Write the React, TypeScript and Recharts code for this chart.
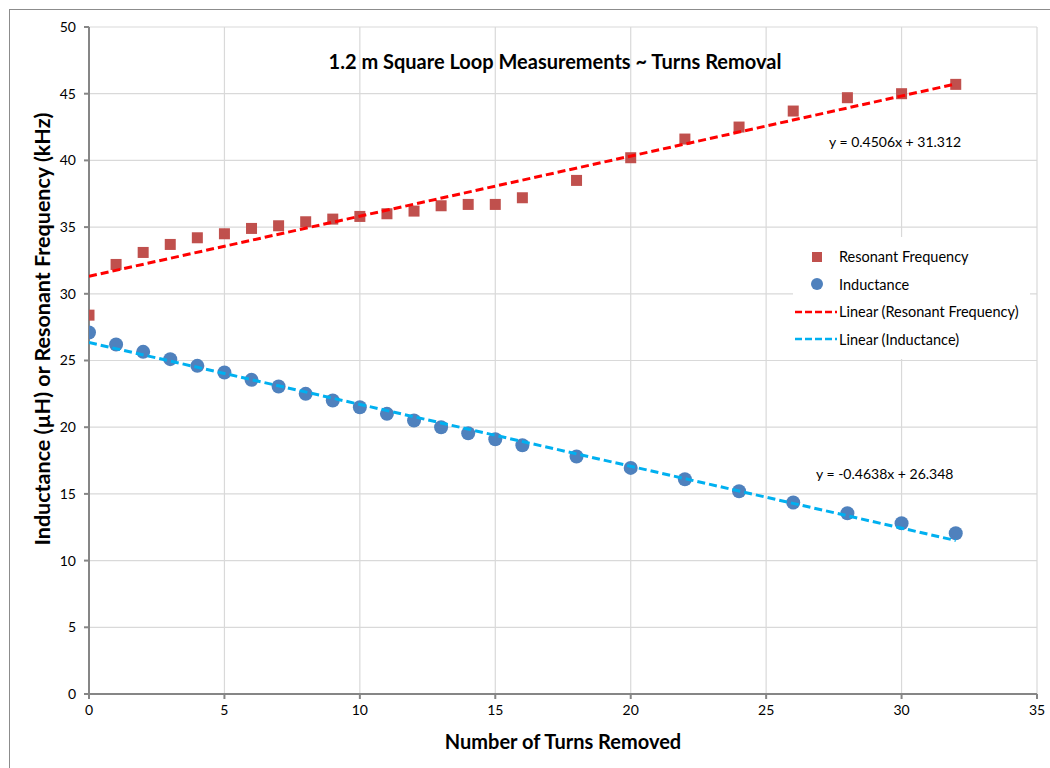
import React from "react";
import { ComposedChart, Scatter, XAxis, YAxis, CartesianGrid } from "recharts";

const turnsRemoved = [0, 1, 2, 3, 4, 5, 6, 7, 8, 9, 10, 11, 12, 13, 14, 15, 16, 18, 20, 22, 24, 26, 28, 30, 32];
const resonantFreq = [
  28.4, 32.2, 33.1, 33.7, 34.2, 34.5, 34.9, 35.1, 35.4, 35.6, 35.8, 36.0, 36.2, 36.6, 36.7, 36.7, 37.2,
  38.5, 40.2, 41.6, 42.5, 43.7, 44.7, 45.0, 45.7,
];
const inductance = [
  27.1, 26.2, 25.65, 25.1, 24.6, 24.1, 23.55, 23.05, 22.5, 22.0, 21.5, 21.0, 20.5, 20.0, 19.55, 19.1,
  18.65, 17.8, 16.95, 16.1, 15.2, 14.35, 13.55, 12.8, 12.05,
];

// Linear trendline endpoints (Excel trendline, x = 0 and x = 32)
const trendX = [0, 32];
const trendRes = [31.312, 45.731];
const trendInd = [26.348, 11.506];

const xTicks = [0, 5, 10, 15, 20, 25, 30, 35];
const yTicks = [0, 5, 10, 15, 20, 25, 30, 35, 40, 45, 50];

const RED_MARK = "#c0504d";
const BLUE_MARK = "#4f81bd";
const RED_LINE = "#ff0000";
const BLUE_LINE = "#00b0f0";
const FONT = "Lato, 'Open Sans', sans-serif";

const resData = turnsRemoved.map((x, i) => ({ x, y: resonantFreq[i] }));
const indData = turnsRemoved.map((x, i) => ({ x, y: inductance[i] }));
const resTrend = trendX.map((x, i) => ({ x, y: trendRes[i] }));
const indTrend = trendX.map((x, i) => ({ x, y: trendInd[i] }));

const SquareDot = (p: any) => (
  <rect x={p.cx - 5.5} y={p.cy - 5.5} width={11} height={11} fill={RED_MARK} />
);
const RoundDot = (p: any) => <circle cx={p.cx} cy={p.cy} r={7} fill={BLUE_MARK} />;
const NoDot = () => <g />;

const legendRows = [
  { kind: "square", label: "Resonant Frequency" },
  { kind: "circle", label: "Inductance" },
  { kind: "redline", label: "Linear (Resonant Frequency)" },
  { kind: "blueline", label: "Linear (Inductance)" },
];

function LegendBox() {
  return (
    <div style={{ background: "#fff", padding: "6px 0", fontFamily: FONT, fontSize: 14.5, color: "#000" }}>
      {legendRows.map((r) => (
        <div key={r.label} style={{ display: "flex", alignItems: "center", height: 27.5 }}>
          <svg width={46} height={14} style={{ flex: "none" }}>
            {r.kind === "square" && <rect x={19} y={2} width={10} height={10} fill={RED_MARK} />}
            {r.kind === "circle" && <circle cx={24} cy={7} r={6} fill={BLUE_MARK} />}
            {r.kind === "redline" && (
              <line x1={2} x2={44} y1={7} y2={7} stroke={RED_LINE} strokeWidth={2.5} strokeDasharray="7 3" />
            )}
            {r.kind === "blueline" && (
              <line x1={2} x2={44} y1={7} y2={7} stroke={BLUE_LINE} strokeWidth={2.5} strokeDasharray="7 3" />
            )}
          </svg>
          <span style={{ whiteSpace: "nowrap" }}>{r.label}</span>
        </div>
      ))}
    </div>
  );
}

export default function App() {
  return (
    <div
      style={{
        position: "fixed",
        left: 0,
        top: 0,
        width: 1050,
        height: 768,
        overflow: "hidden",
        background: "#fff",
      }}
    >
      {/* chart frame, right and bottom edges fall outside the picture */}
      <div
        style={{
          position: "absolute",
          left: 9,
          top: 9,
          width: 1080,
          height: 800,
          border: "1px solid #8c8c8c",
          boxSizing: "border-box",
        }}
      />
      <div style={{ position: "absolute", left: 0, top: 0 }}>
        <ComposedChart width={1050} height={768} margin={{ top: 27, right: 13, bottom: 44, left: 20 }}>
          <CartesianGrid stroke="#d9d9d9" strokeWidth={1.2} />
          <XAxis
            type="number"
            dataKey="x"
            domain={[0, 35]}
            ticks={xTicks}
            interval={0}
            height={30}
            tickSize={5}
            tickMargin={6}
            stroke="#868686"
            strokeWidth={2}
            tick={{ fontSize: 14, fill: "#000", fontFamily: FONT }}
            allowDataOverflow
          />
          <YAxis
            type="number"
            dataKey="y"
            domain={[0, 50]}
            ticks={yTicks}
            interval={0}
            width={69}
            tickSize={5}
            tickMargin={8}
            stroke="#868686"
            strokeWidth={2}
            tick={{ fontSize: 14, fill: "#000", fontFamily: FONT }}
            allowDataOverflow
          />
          <Scatter name="Resonant Frequency" data={resData} shape={SquareDot} isAnimationActive={false} />
          <Scatter name="Inductance" data={indData} shape={RoundDot} isAnimationActive={false} />
          <Scatter
            name="Linear (Resonant Frequency)"
            data={resTrend}
            shape={NoDot}
            line={{ stroke: RED_LINE, strokeWidth: 3, strokeDasharray: "8 4" }}
            lineType="joint"
            isAnimationActive={false}
          />
          <Scatter
            name="Linear (Inductance)"
            data={indTrend}
            shape={NoDot}
            line={{ stroke: BLUE_LINE, strokeWidth: 3, strokeDasharray: "8 4" }}
            lineType="joint"
            isAnimationActive={false}
          />
        </ComposedChart>
      </div>

      <div style={{ position: "absolute", left: 793, top: 237, width: 237 }}>
        <LegendBox />
      </div>

      <div
        style={{
          position: "absolute",
          left: 555,
          top: 61,
          transform: "translate(-50%, -50%)",
          fontFamily: FONT,
          fontWeight: 700,
          fontSize: 20,
          whiteSpace: "nowrap",
          color: "#000",
        }}
      >
        1.2 m Square Loop Measurements ~ Turns Removal
      </div>

      <div
        style={{
          position: "absolute",
          left: 829,
          top: 141,
          transform: "translateY(-50%)",
          fontFamily: FONT,
          fontSize: 14,
          whiteSpace: "nowrap",
        }}
      >
        y = 0.4506x + 31.312
      </div>
      <div
        style={{
          position: "absolute",
          left: 816,
          top: 473,
          transform: "translateY(-50%)",
          fontFamily: FONT,
          fontSize: 14,
          whiteSpace: "nowrap",
        }}
      >
        y = -0.4638x + 26.348
      </div>

      <div
        style={{
          position: "absolute",
          left: 563,
          top: 741,
          transform: "translate(-50%, -50%)",
          fontFamily: FONT,
          fontWeight: 700,
          fontSize: 20,
          whiteSpace: "nowrap",
        }}
      >
        Number of Turns Removed
      </div>
      <div
        style={{
          position: "absolute",
          left: 42,
          top: 329,
          transform: "translate(-50%, -50%) rotate(-90deg)",
          fontFamily: FONT,
          fontWeight: 700,
          fontSize: 21.5,
          whiteSpace: "nowrap",
        }}
      >
        Inductance (µH) or Resonant Frequency (kHz)
      </div>
    </div>
  );
}
